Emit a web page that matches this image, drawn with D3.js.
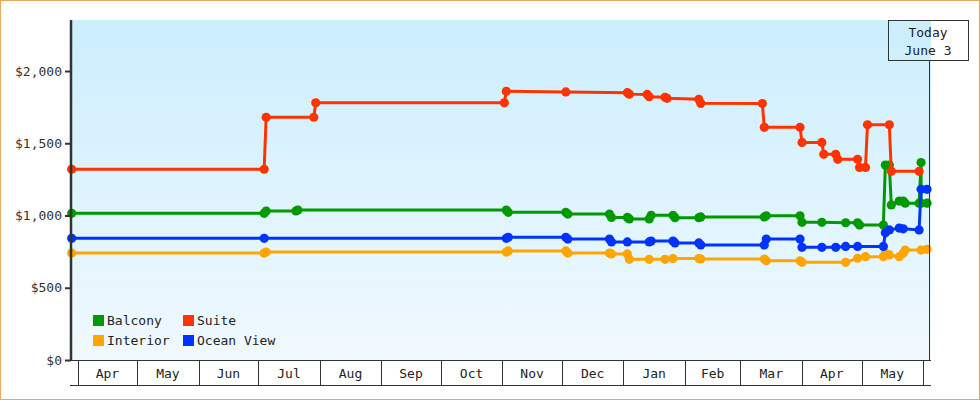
<!DOCTYPE html>
<html>
<head>
<meta charset="utf-8">
<script src="https://cdn.jsdelivr.net/npm/d3@7"></script>
<style>
  body { margin: 0; background: #fff; }
  svg { display: block; font-family: "DejaVu Sans Mono", monospace; }
</style>
</head>
<body>
<div class="price-chart"></div>
<script>
// --- DATA --- //
// [date, price] observations per cabin type
const balcony = [
  ["2022-03-29", 1015], ["2022-07-04", 1015], ["2022-07-05", 1031], ["2022-07-20", 1031],
  ["2022-07-21", 1038], ["2022-11-03", 1038], ["2022-11-04", 1022], ["2022-12-03", 1022],
  ["2022-12-04", 1010], ["2022-12-25", 1010], ["2022-12-26", 987], ["2023-01-03", 987],
  ["2023-01-04", 976], ["2023-01-14", 976], ["2023-01-15", 1001], ["2023-01-26", 1001],
  ["2023-01-27", 985], ["2023-02-08", 985], ["2023-02-09", 990], ["2023-03-13", 990],
  ["2023-03-14", 998], ["2023-03-31", 998], ["2023-04-01", 953], ["2023-04-11", 953],
  ["2023-04-23", 950], ["2023-04-29", 950], ["2023-04-30", 934], ["2023-05-12", 934],
  ["2023-05-13", 1349], ["2023-05-15", 1349], ["2023-05-16", 1073], ["2023-05-20", 1100],
  ["2023-05-22", 1100], ["2023-05-23", 1085], ["2023-05-30", 1085], ["2023-05-31", 1366],
  ["2023-05-31", 1085], ["2023-06-03", 1085]
];
const suite = [
  ["2022-03-29", 1320], ["2022-07-04", 1320], ["2022-07-05", 1680], ["2022-07-29", 1680],
  ["2022-07-30", 1780], ["2022-11-02", 1780], ["2022-11-03", 1860], ["2022-12-03", 1855],
  ["2023-01-03", 1850], ["2023-01-04", 1840], ["2023-01-13", 1838], ["2023-01-14", 1822],
  ["2023-01-22", 1818], ["2023-01-23", 1811], ["2023-02-08", 1804], ["2023-02-09", 1776],
  ["2023-03-12", 1775], ["2023-03-13", 1610], ["2023-03-31", 1610], ["2023-04-01", 1506],
  ["2023-04-11", 1506], ["2023-04-12", 1424], ["2023-04-18", 1424], ["2023-04-19", 1389],
  ["2023-04-29", 1389], ["2023-04-30", 1333], ["2023-05-03", 1333], ["2023-05-04", 1628],
  ["2023-05-15", 1628], ["2023-05-16", 1306], ["2023-05-30", 1306]
];
const interior = [
  ["2022-03-29", 740], ["2022-07-04", 740], ["2022-07-05", 747], ["2022-11-03", 747],
  ["2022-11-04", 755], ["2022-12-03", 755], ["2022-12-04", 740], ["2022-12-25", 740],
  ["2022-12-26", 734], ["2023-01-03", 734], ["2023-01-04", 697], ["2023-01-14", 697],
  ["2023-01-22", 697], ["2023-01-26", 702], ["2023-02-08", 702], ["2023-02-09", 699],
  ["2023-03-13", 699], ["2023-03-14", 687], ["2023-03-31", 687], ["2023-04-01", 676],
  ["2023-04-23", 676], ["2023-04-29", 704], ["2023-05-03", 715], ["2023-05-12", 715],
  ["2023-05-13", 738], ["2023-05-15", 727], ["2023-05-20", 715], ["2023-05-22", 738],
  ["2023-05-23", 761], ["2023-05-31", 761], ["2023-06-03", 766]
];
const oceanView = [
  ["2022-03-29", 842], ["2022-07-04", 842], ["2022-11-03", 842], ["2022-11-04", 849],
  ["2022-12-03", 849], ["2022-12-04", 837], ["2022-12-25", 837], ["2022-12-26", 817],
  ["2023-01-03", 817], ["2023-01-14", 817], ["2023-01-15", 823], ["2023-01-26", 823],
  ["2023-01-27", 810], ["2023-02-08", 810], ["2023-02-09", 796], ["2023-03-13", 796],
  ["2023-03-14", 837], ["2023-03-31", 837], ["2023-04-01", 780], ["2023-04-11", 780],
  ["2023-04-18", 780], ["2023-04-23", 786], ["2023-04-29", 786], ["2023-05-12", 786],
  ["2023-05-13", 880], ["2023-05-15", 900], ["2023-05-20", 913], ["2023-05-22", 908],
  ["2023-05-30", 900], ["2023-05-31", 1181], ["2023-06-03", 1181]
];

const yTicks = [0, 500, 1000, 1500, 2000];
const monthStarts = ["2022-04-01", "2022-05-01", "2022-06-01", "2022-07-01", "2022-08-01",
  "2022-09-01", "2022-10-01", "2022-11-01", "2022-12-01", "2023-01-01", "2023-02-01",
  "2023-03-01", "2023-04-01", "2023-05-01", "2023-06-01"];
const monthLabels = ["Apr", "May", "Jun", "Jul", "Aug", "Sep", "Oct", "Nov", "Dec",
  "Jan", "Feb", "Mar", "Apr", "May"];
const todayLabel = ["Today", "June 3"];
const today = new Date("2023-06-03T18:00:00Z");

const series = [
  { name: "Balcony", values: balcony, color: "#009900" },
  { name: "Interior", values: interior, color: "#ffa500" },
  { name: "Ocean View", values: oceanView, color: "#0033ff" },
  { name: "Suite", values: suite, color: "#ff3300" }
];
const legendOrder = ["Balcony", "Suite", "Interior", "Ocean View"];

// --- SVG --- //
const width = 980;
const height = 400;
const plotLeft = 71, plotRight = 931, plotTop = 20, plotBottom = 360;

const svg = d3.select('.price-chart').append('svg')
  .attr('width', width)
  .attr('height', height)
  .attr('viewBox', [0, 0, width, height]);

// outer orange frame
svg.append('rect')
  .attr('x', 0.5).attr('y', 0.5)
  .attr('width', width - 1).attr('height', height - 1)
  .attr('fill', 'white')
  .attr('stroke', '#e8a862');

// background gradient
const grad = svg.append('defs').append('linearGradient')
  .attr('id', 'bg').attr('x1', 0).attr('y1', 0).attr('x2', 0).attr('y2', 1);
grad.append('stop').attr('offset', '0%').attr('stop-color', '#cbeefc');
grad.append('stop').attr('offset', '100%').attr('stop-color', '#f0f9fe');

svg.append('rect')
  .attr('x', plotLeft).attr('y', plotTop)
  .attr('width', plotRight - plotLeft).attr('height', plotBottom - plotTop)
  .attr('fill', 'url(#bg)');

// --- SCALES --- //
const x = d3.scaleUtc()
  .domain([new Date("2022-03-28T16:00:00Z"), new Date("2023-06-05T00:00:00Z")])
  .range([plotLeft, plotRight]);

const y = d3.scaleLinear()
  .domain([0, 2353])
  .range([plotBottom, plotTop]);

const parse = s => new Date(s + "T00:00:00Z");

// --- LINES --- //
const line = d3.line()
  .x(d => x(parse(d[0])))
  .y(d => y(d[1]));

series.forEach(s => {
  svg.append('path')
    .datum(s.values)
    .attr('d', line)
    .attr('fill', 'none')
    .attr('stroke', s.color)
    .attr('stroke-width', 3);

  svg.append('g')
    .selectAll('circle')
    .data(s.values)
    .join('circle')
    .attr('cx', d => x(parse(d[0])))
    .attr('cy', d => y(d[1]))
    .attr('r', 4.6)
    .attr('fill', s.color);
});

// --- Y AXIS --- //
const yAxis = svg.append('g')
  .attr('transform', `translate(${plotLeft},0)`)
  .call(d3.axisLeft(y)
    .tickValues(yTicks)
    .tickSize(6)
    .tickPadding(3)
    .tickFormat(d => "$" + d3.format(",")(d)));

yAxis.select('.domain').remove();
yAxis.selectAll('.tick line').attr('stroke', '#333').attr('stroke-width', 2);
yAxis.selectAll('text')
  .attr('fill', '#333')
  .style('font-size', '13px')
  .style('font-family', '"DejaVu Sans Mono", monospace');

svg.append('line')
  .attr('x1', plotLeft).attr('x2', plotLeft)
  .attr('y1', plotTop).attr('y2', plotBottom + 1)
  .attr('stroke', '#333').attr('stroke-width', 2.5);

// --- MONTH BAND AXIS --- //
const band = svg.append('g');
band.append('line')
  .attr('x1', plotLeft - 1).attr('x2', plotRight)
  .attr('y1', plotBottom + 0.5).attr('y2', plotBottom + 0.5)
  .attr('stroke', '#333');
band.append('line')
  .attr('x1', plotLeft - 1).attr('x2', plotRight)
  .attr('y1', 385.5).attr('y2', 385.5)
  .attr('stroke', '#333');

band.selectAll('.sep')
  .data(monthStarts)
  .join('line')
  .attr('class', 'sep')
  .attr('x1', d => Math.round(x(parse(d))) + 0.5)
  .attr('x2', d => Math.round(x(parse(d))) + 0.5)
  .attr('y1', plotBottom).attr('y2', 385.5)
  .attr('stroke', '#333');

band.selectAll('.month')
  .data(monthLabels)
  .join('text')
  .attr('class', 'month')
  .attr('x', (d, i) => (x(parse(monthStarts[i])) + x(parse(monthStarts[i + 1]))) / 2)
  .attr('y', 378)
  .attr('text-anchor', 'middle')
  .attr('fill', '#222')
  .style('font-size', '13px')
  .text(d => d);

// --- TODAY MARKER --- //
const tx = Math.round(x(today)) + 0.5;
svg.append('line')
  .attr('x1', tx).attr('x2', tx)
  .attr('y1', 60).attr('y2', plotBottom)
  .attr('stroke', '#333');

svg.append('rect')
  .attr('x', 888.5).attr('y', 20.5)
  .attr('width', 80).attr('height', 40)
  .attr('fill', 'none')
  .attr('stroke', '#333');

svg.selectAll('.today')
  .data(todayLabel)
  .join('text')
  .attr('class', 'today')
  .attr('x', 928)
  .attr('y', (d, i) => 37 + i * 18)
  .attr('text-anchor', 'middle')
  .attr('fill', '#222')
  .style('font-size', '13px')
  .text(d => d);

// --- LEGEND --- //
const legend = svg.append('g');
legendOrder.forEach((name, i) => {
  const s = series.find(d => d.name === name);
  const lx = 93 + (i % 2) * 90;
  const ly = 315 + Math.floor(i / 2) * 20;
  legend.append('rect')
    .attr('x', lx).attr('y', ly)
    .attr('width', 11).attr('height', 11)
    .attr('fill', s.color);
  legend.append('text')
    .attr('x', lx + 14).attr('y', ly + 10)
    .attr('fill', '#222')
    .style('font-size', '13px')
    .text(name);
});
</script>
</body>
</html>
